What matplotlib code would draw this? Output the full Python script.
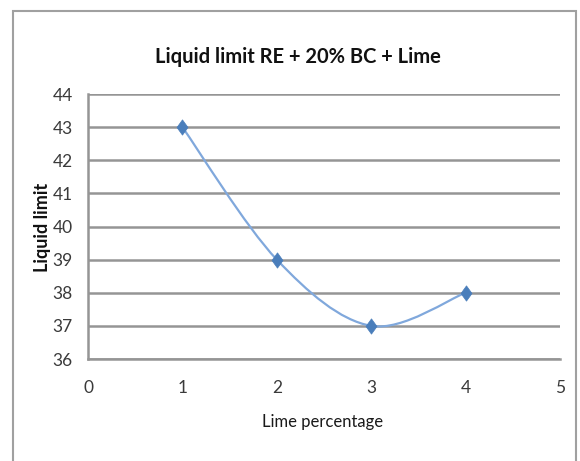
import numpy as np
import matplotlib
matplotlib.use("Agg")
import matplotlib.pyplot as plt
from matplotlib.patches import Rectangle, PathPatch
from matplotlib.path import Path

lime_pct = [1, 2, 3, 4]
liquid_limit = [43.0, 39.0, 37.0, 38.0]
x_ticks = [0, 1, 2, 3, 4, 5]
y_ticks = [36, 37, 38, 39, 40, 41, 42, 43, 44]

title = "Liquid limit RE + 20% BC + Lime"
x_label = "Lime percentage"
y_label = "Liquid limit"

plt.rcParams["font.family"] = ["Lato", "DejaVu Sans"]

fig = plt.figure(figsize=(5.80, 4.61), dpi=100)
ax = fig.add_axes([88 / 580, 1 - 359 / 461, (560 - 88) / 580, (359 - 94) / 461])

# smoothed line as cubic Bezier segments (Catmull-Rom style control points)
xs = np.array(lime_pct, float)
ys = np.array(liquid_limit, float)
verts = [(xs[0], ys[0])]
codes = [Path.MOVETO]
n = len(xs)
for i in range(n - 1):
    p0 = np.array([xs[max(i - 1, 0)], ys[max(i - 1, 0)]])
    p1 = np.array([xs[i], ys[i]])
    p2 = np.array([xs[i + 1], ys[i + 1]])
    p3 = np.array([xs[min(i + 2, n - 1)], ys[min(i + 2, n - 1)]])
    c1 = p1 + (p2 - p0) / 6.0
    c2 = p2 - (p3 - p1) / 6.0
    verts += [tuple(c1), tuple(c2), tuple(p2)]
    codes += [Path.CURVE4] * 3
ax.add_patch(PathPatch(Path(verts, codes), fill=False, edgecolor="#80a8dc",
                       lw=1.6, zorder=3))

# tall diamond marker
diamond = Path([(0, 1), (0.72, 0), (0, -1), (-0.72, 0), (0, 1)],
               [Path.MOVETO, Path.LINETO, Path.LINETO, Path.LINETO, Path.CLOSEPOLY])
ax.plot(xs, ys, linestyle="none", marker=diamond, markersize=11,
        color="#4a7ebb", markeredgecolor="#4a7ebb", markeredgewidth=0.5, zorder=4)

ax.set_xlim(0, 5)
ax.set_ylim(36, 44)
ax.set_xticks(x_ticks)
ax.set_yticks(y_ticks)
ax.yaxis.grid(True, color="#959595", lw=1.8)
ax.set_axisbelow(True)
for s in ["top", "right"]:
    ax.spines[s].set_visible(False)
for s in ["left", "bottom"]:
    ax.spines[s].set_color("#959595")
    ax.spines[s].set_linewidth(1.8)
ax.tick_params(axis="both", length=0, labelsize=12.5, colors="#3a3a3a")
ax.tick_params(axis="y", pad=11)
ax.tick_params(axis="x", pad=15)

ax.set_xlabel(x_label, fontsize=12, color="#1a1a1a")
ax.xaxis.set_label_coords(0.497, (359 - 414) / 265)
ax.set_ylabel(y_label, fontsize=13, fontweight="bold", color="#111111")
ax.yaxis.set_label_coords((51 - 88) / 472, (359 - 227) / 265)
fig.text(0.513, 1 - 63 / 461, title, ha="center", va="baseline", fontsize=14.5,
         fontweight="bold", color="#111111")

# chart frame
fig.patches.append(Rectangle((13 / 580, -0.05), (576 - 13) / 580, 1.05 - 11 / 461,
                             transform=fig.transFigure, fill=False,
                             edgecolor="#a0a0a0", lw=1.5))

fig.savefig("out.png", dpi=100)
